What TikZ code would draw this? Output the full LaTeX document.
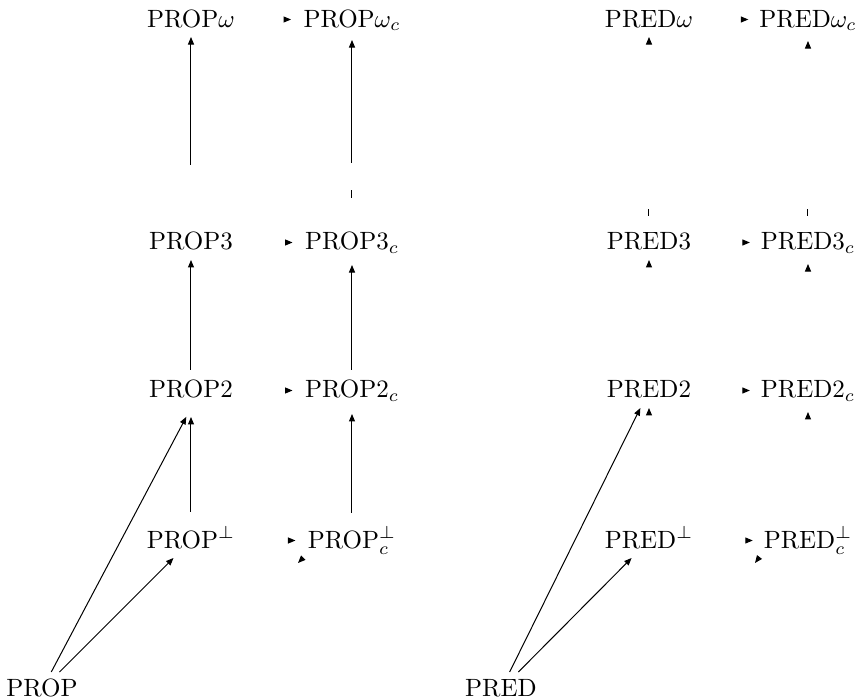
\documentclass[tikz,border=0pt]{standalone}
\usetikzlibrary{arrows.meta}
\tikzset{
  lbl/.style={inner sep=1pt, outer sep=1pt, text height=8pt, text depth=2pt},
  arr/.style={-{Triangle[length=3pt,width=2.4pt]}},
  ghost/.style={arr, dash pattern=on 0pt off 600pt},
}
\begin{document}
\begin{tikzpicture}[x=0.4pt,y=-0.4pt]
    \useasboundingbox (0,0) rectangle (863,700);
    % propositional systems
    \node (Pw) at (191,19.5) [lbl] {PROP$\omega$};
    \node (Pwc) at (352,19.5) [lbl] {PROP$\omega_c$};
    \node (P3) at (191,242.5) [lbl] {PROP3};
    \node (P3c) at (352,242.5) [lbl] {PROP3$_c$};
    \node (P2) at (191,390.5) [lbl] {PROP2};
    \node (P2c) at (352,390.5) [lbl] {PROP2$_c$};
    \node (Pb) at (191,540.5) [lbl] {PROP$^\perp$};
    \node (Pbc) at (352,540.5) [lbl] {PROP$^\perp_c$};
    \node (P) at (42,689.5) [lbl] {PROP};
    % predicate systems
    \node (Dw) at (649,19.5) [lbl] {PRED$\omega$};
    \node (Dwc) at (808,19.5) [lbl] {PRED$\omega_c$};
    \node (D3) at (649,242.5) [lbl] {PRED3};
    \node (D3c) at (808,242.5) [lbl] {PRED3$_c$};
    \node (D2) at (649,390.5) [lbl] {PRED2};
    \node (D2c) at (808,390.5) [lbl] {PRED2$_c$};
    \node (Db) at (649,540.5) [lbl] {PRED$^\perp$};
    \node (Dbc) at (808,540.5) [lbl] {PRED$^\perp_c$};
    \node (D) at (501,689.5) [lbl] {PRED};
    \coordinate (Pbc-x) at (298,563);
    \coordinate (Dbc-x) at (755,563);
    % vertical arrows, PROP side
    \draw[arr, shorten <=4.4pt, shorten >=3.6pt] (Pb) -- (P2);
    \draw[arr, shorten <=1.2pt] (P2) -- (P3);
    \draw[arr, dash pattern=on 0pt off 24pt on 300pt] (P3) -- (Pw);
    \draw[arr, shorten <=4pt, shorten >=2.4pt] (Pbc) -- (P2c);
    \draw[arr, shorten <=1.2pt, shorten >=2pt] (P2c) -- (P3c);
    \draw[arr, dash pattern=on 0pt off 10.8pt on 3.2pt off 10.8pt on 300pt,
      shorten >=1.2pt] (P3c) -- (Pwc);
    \draw[arr, shorten >=4pt] (P) -- (P2.south);
    \draw[arr] (P) -- (Pb);
    % PRED side
    \draw[arr] (D) -- (D2);
    \draw[arr] (D) -- (Db);
    \draw[arr, dash pattern=on 0pt off 3.6pt on 2.8pt off 300pt] (D3) -- (Dw);
    \draw[arr, dash pattern=on 0pt off 3.6pt on 2.8pt off 300pt,
      shorten >=1.6pt] (D3c) -- (Dwc);
    % only the tips are left of these
    \draw[ghost, shorten >=3pt] (Pw) -- (Pwc);
    \draw[ghost, shorten >=3pt] (P3) -- (P3c);
    \draw[ghost, shorten >=3pt] (P2) -- (P2c);
    \draw[ghost, shorten >=3pt] (Pb) -- (Pbc);
    \draw[ghost] (Pbc.south west) -- (Pbc-x);
    \draw[ghost, shorten >=2.4pt] (Dw) -- (Dwc);
    \draw[ghost, shorten >=2.4pt] (D3) -- (D3c);
    \draw[ghost, shorten >=2.4pt] (D2) -- (D2c);
    \draw[ghost, shorten >=2.4pt] (Db) -- (Dbc);
    \draw[ghost] (Dbc.south west) -- (Dbc-x);
    \draw[ghost] (Db) -- (D2);
    \draw[ghost] (D2) -- (D3);
    \draw[ghost, shorten >=1.6pt] (Dbc) -- (D2c);
    \draw[ghost, shorten >=1.6pt] (D2c) -- (D3c);
  \end{tikzpicture}
\end{document}
